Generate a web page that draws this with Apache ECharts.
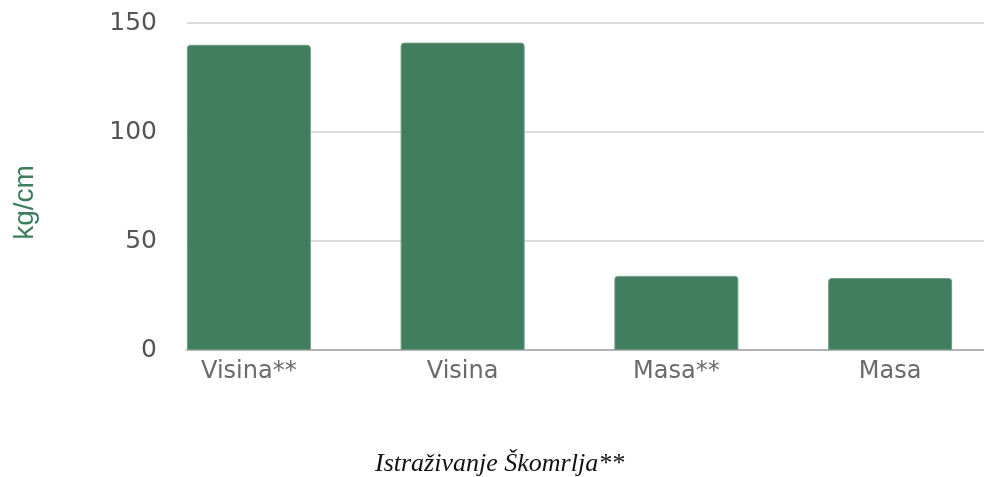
<!DOCTYPE html>
<html>
<head>
<meta charset="utf-8">
<script src="https://cdn.jsdelivr.net/npm/echarts@6/dist/echarts.min.js"></script>
<style>html,body{margin:0;padding:0;background:#fff;}#c{width:984px;height:477px;}</style>
</head>
<body>
<div id="c"></div>
<script>
const categories = ['Visina**', 'Visina', 'Masa**', 'Masa'];
const values = [140, 141, 34, 33];
const yTicks = { min: 0, max: 150, interval: 50 };
const yName = 'kg/cm';
const caption = 'Istraživanje Škomrlja**';

const chart = echarts.init(document.getElementById('c'), null, { renderer: 'canvas' });
chart.setOption({
  animation: false,
  backgroundColor: '#ffffff',
  title: {
    text: caption,
    left: 370,
    top: 446,
    textStyle: { fontFamily: 'Liberation Serif', fontStyle: 'italic', fontWeight: 'normal', fontSize: 26, color: '#111' }
  },
  grid: [
    { left: 187, right: 0, top: 23, bottom: 127, outerBoundsMode: 'none' },
    { left: 142, width: 855, top: 23, bottom: 127, outerBoundsMode: 'none' }
  ],
  xAxis: [
    { type: 'category', gridIndex: 0, data: categories,
      axisLine: { show: true, lineStyle: { color: '#b3b3b3', width: 2 } },
      axisTick: { show: false }, axisLabel: { show: false }, splitLine: { show: false } },
    { type: 'category', gridIndex: 1, data: categories,
      axisLine: { show: false }, axisTick: { show: false },
      axisLabel: { show: true, color: '#6a6a6a', fontFamily: 'DejaVu Sans', fontSize: 24, margin: 10 } }
  ],
  yAxis: [
    { type: 'value', gridIndex: 0, min: yTicks.min, max: yTicks.max, interval: yTicks.interval,
      name: yName, nameLocation: 'middle', nameGap: 148, nameRotate: 90,
      nameTextStyle: { color: '#3d7d5c', fontFamily: 'Liberation Sans', fontSize: 28, padding: [0, 32, 0, 0] },
      axisLine: { show: false }, axisTick: { show: false },
      axisLabel: { color: '#555', fontFamily: 'DejaVu Sans', fontSize: 25, margin: 30 },
      splitLine: { lineStyle: { color: '#dcdcdc', width: 2 } } },
    { type: 'value', gridIndex: 1, min: yTicks.min, max: yTicks.max, interval: yTicks.interval, show: false,
      splitLine: { show: false } }
  ],
  series: [{
    type: 'bar', xAxisIndex: 1, yAxisIndex: 1, data: values, barWidth: 124,
    itemStyle: { color: '#417e60', borderRadius: [3, 3, 0, 0], borderColor: '#6f9c83', borderWidth: 1 }
  }]
});
</script>
</body>
</html>
